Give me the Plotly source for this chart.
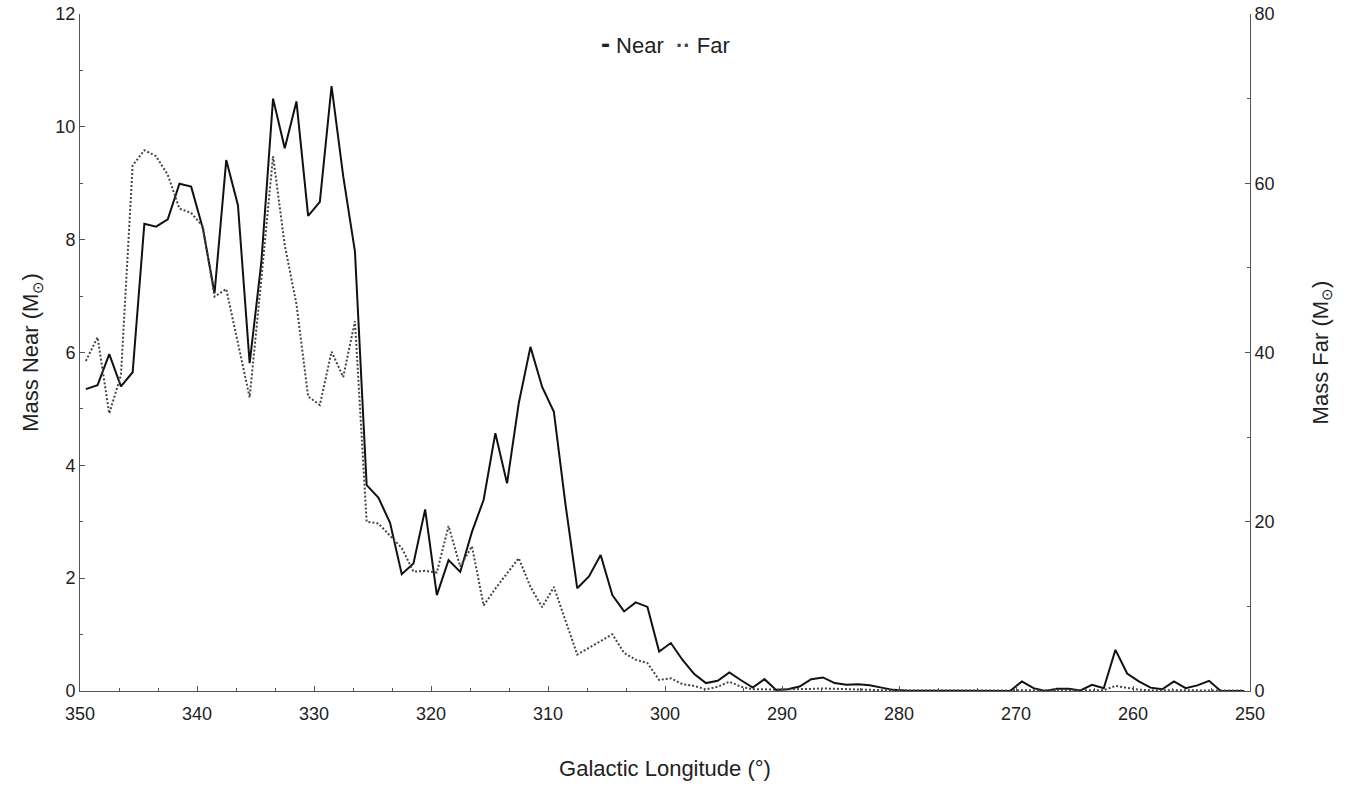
import plotly.graph_objects as go

# Galactic longitude bin centres (deg), 1-degree bins
longitude = [
    349.5, 348.5, 347.5, 346.5, 345.5, 344.5, 343.5, 342.5, 341.5, 340.5,
    339.5, 338.5, 337.5, 336.5, 335.5, 334.5, 333.5, 332.5, 331.5, 330.5,
    329.5, 328.5, 327.5, 326.5, 325.5, 324.5, 323.5, 322.5, 321.5, 320.5,
    319.5, 318.5, 317.5, 316.5, 315.5, 314.5, 313.5, 312.5, 311.5, 310.5,
    309.5, 308.5, 307.5, 306.5, 305.5, 304.5, 303.5, 302.5, 301.5, 300.5,
    299.5, 298.5, 297.5, 296.5, 295.5, 294.5, 293.5, 292.5, 291.5, 290.5,
    289.5, 288.5, 287.5, 286.5, 285.5, 284.5, 283.5, 282.5, 281.5, 280.5,
    279.5, 278.5, 277.5, 276.5, 275.5, 274.5, 273.5, 272.5, 271.5, 270.5,
    269.5, 268.5, 267.5, 266.5, 265.5, 264.5, 263.5, 262.5, 261.5, 260.5,
    259.5, 258.5, 257.5, 256.5, 255.5, 254.5, 253.5, 252.5, 251.5, 250.5,
]

# Mass of near-distance sources (left axis)
mass_near = [
    5.35, 5.42, 5.97, 5.40, 5.65, 8.28, 8.23, 8.36, 8.99, 8.94,
    8.20, 7.05, 9.41, 8.61, 5.81, 7.60, 10.50, 9.62, 10.45, 8.42,
    8.67, 10.72, 9.12, 7.79, 3.65, 3.43, 2.98, 2.07, 2.26, 3.22,
    1.70, 2.32, 2.11, 2.82, 3.39, 4.57, 3.68, 5.10, 6.10, 5.39,
    4.95, 3.30, 1.82, 2.03, 2.41, 1.70, 1.41, 1.57, 1.49, 0.70,
    0.85, 0.55, 0.30, 0.14, 0.18, 0.33, 0.19, 0.06, 0.21, 0.02,
    0.03, 0.08, 0.21, 0.24, 0.14, 0.11, 0.12, 0.10, 0.06, 0.02,
    0.01, 0.01, 0.00, 0.00, 0.00, 0.00, 0.00, 0.00, 0.00, 0.00,
    0.17, 0.05, 0.00, 0.04, 0.04, 0.01, 0.11, 0.05, 0.73, 0.31,
    0.17, 0.06, 0.03, 0.17, 0.05, 0.10, 0.18, 0.00, 0.00, 0.00,
]

# Mass of far-distance sources (right axis)
mass_far = [
    39.0, 41.8, 32.8, 37.3, 62.1, 63.9, 63.2, 61.0, 57.0, 56.5,
    54.9, 46.6, 47.5, 41.3, 34.7, 48.7, 63.2, 52.7, 45.7, 34.8,
    33.8, 40.1, 37.1, 43.7, 20.0, 19.8, 18.4, 16.9, 14.1, 14.2,
    14.0, 19.5, 14.7, 17.1, 10.1, 12.1, 13.9, 15.7, 12.3, 9.9,
    12.3, 8.2, 4.3, 5.1, 5.9, 6.7, 4.5, 3.7, 3.3, 1.3,
    1.5, 0.8, 0.6, 0.2, 0.5, 1.1, 0.5, 0.2, 0.2, 0.15,
    0.2, 0.2, 0.25, 0.3, 0.25, 0.2, 0.2, 0.15, 0.1, 0.1,
    0.05, 0.05, 0.05, 0.05, 0.05, 0.05, 0.05, 0.05, 0.05, 0.05,
    0.05, 0.05, 0.05, 0.05, 0.05, 0.05, 0.05, 0.1, 0.6, 0.35,
    0.15, 0.1, 0.1, 0.1, 0.1, 0.1, 0.1, 0.05, 0.05, 0.05,
]

x_ticks = [350, 340, 330, 320, 310, 300, 290, 280, 270, 260, 250]
near_ticks = [0, 2, 4, 6, 8, 10, 12]
far_ticks = [0, 20, 40, 60, 80]

FONT = "Liberation Sans, Arial, sans-serif"
TXT = "#222222"
AX = "#555555"
NEAR_COLOR = "#111111"
FAR_COLOR = "#444444"

fig = go.Figure()
fig.add_trace(go.Scatter(
    x=longitude, y=mass_near, name="Near", mode="lines",
    line=dict(color=NEAR_COLOR, width=2), yaxis="y", showlegend=False,
))
fig.add_trace(go.Scatter(
    x=longitude, y=mass_far, name="Far", mode="lines",
    line=dict(color=FAR_COLOR, width=2, dash="2px,2px"), yaxis="y2", showlegend=False,
))

# compact legend in the style of the original (short symbols)
fig.add_annotation(
    xref="paper", yref="paper", x=0.5, y=0.956, xanchor="center", yanchor="middle",
    showarrow=False,
    text=("<span style='font-size:27px'><b>-</b></span> Near  "
          "<span style='color:%s'><b>··</b></span> Far" % FAR_COLOR),
    font=dict(family=FONT, size=22, color=TXT),
)

fig.update_layout(
    width=1346, height=786,
    margin=dict(l=80, r=96, t=14, b=95, autoexpand=False),
    paper_bgcolor="white", plot_bgcolor="white",
    font=dict(family=FONT, size=18, color=TXT),
    showlegend=False,
    xaxis=dict(
        range=[350, 250], tickmode="array", tickvals=x_ticks,
        ticktext=[str(v) for v in x_ticks],
        showgrid=False, zeroline=False,
        showline=True, linecolor=AX, linewidth=1,
        ticks="inside", ticklen=5, tickcolor=AX,
        minor=dict(dtick=10/3, tick0=250, ticks="inside", ticklen=3, tickcolor=AX, showgrid=False),
        tickfont=dict(size=18, color=TXT), ticklabelstandoff=6,
        title=dict(text="Galactic Longitude (°)", font=dict(size=22, color=TXT), standoff=38),
    ),
    yaxis=dict(
        range=[0, 12], tickmode="array", tickvals=near_ticks,
        showgrid=False, zeroline=False,
        showline=True, linecolor=AX, linewidth=1,
        ticks="inside", ticklen=5, tickcolor=AX,
        minor=dict(dtick=1, ticks="inside", ticklen=3, tickcolor=AX, showgrid=False),
        tickfont=dict(size=18, color=TXT),
        title=dict(text="Mass Near (M<sub>⊙</sub>)", font=dict(size=22, color=TXT), standoff=10),
    ),
    yaxis2=dict(
        range=[0, 80], tickmode="array", tickvals=far_ticks,
        overlaying="y", side="right",
        showgrid=False, zeroline=False,
        showline=True, linecolor=AX, linewidth=1,
        ticks="inside", ticklen=5, tickcolor=AX,
        minor=dict(dtick=10, ticks="inside", ticklen=3, tickcolor=AX, showgrid=False),
        tickfont=dict(size=18, color=TXT),
        title=dict(text="Mass Far (M<sub>⊙</sub>)", font=dict(size=22, color=TXT), standoff=38),
    ),
)

fig.write_html("out.html")
